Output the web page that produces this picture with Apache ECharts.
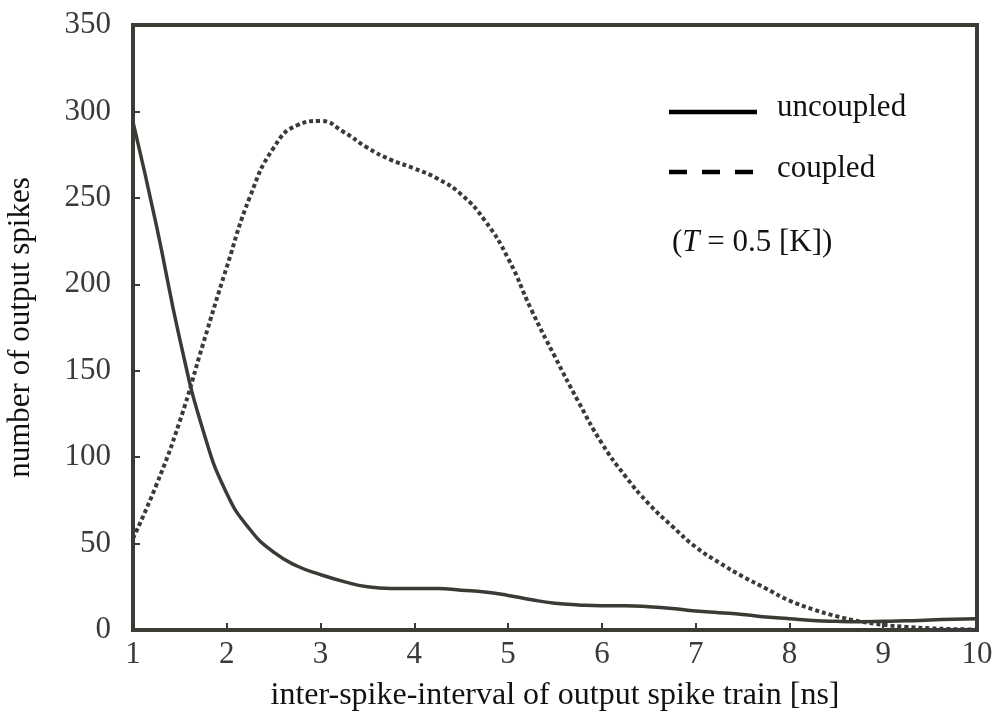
<!DOCTYPE html>
<html><head><meta charset="utf-8">
<script src="https://cdn.jsdelivr.net/npm/echarts@6/dist/echarts.min.js"></script>
<style>html,body{margin:0;padding:0;background:#fff}#c{width:1004px;height:715px}</style>
</head><body><div id="c"></div>
<script>
var xValues = [1.0,1.25,1.5,1.75,2.0,2.25,2.5,2.75,3.0,3.25,3.5,3.75,4.0,4.25,4.5,4.75,5.0,5.25,5.5,5.75,6.0,6.25,6.5,6.75,7.0,7.25,7.5,7.75,8.0,8.25,8.5,8.75,9.0,9.25,9.5,9.75,10.0];
var uncoupled = [294,234,168,115,79,58,45,37,32,28,25,24,24,24,23,22,20,17.5,15.5,14.5,14,14,13.5,12.5,11,10,9,7.5,6.5,5.5,5,4.8,5,5.3,5.8,6.2,6.5];
var coupled = [53,84,121,166,210,251,279,292,294.5,288,279,272,267,261,252,237,215,185,158,132,108,89,73,60,48,39,31,24,17,12,8,5,3,1.8,1,0.5,0.3];
var xTicks = [1,2,3,4,5,6,7,8,9,10];
var yTicks = [0,50,100,150,200,250,300,350];
var seriesNames = ['uncoupled','coupled'];

function pairs(ys){ return xValues.map(function(x,i){ return [x, ys[i]]; }); }

var chart = echarts.init(document.getElementById('c'));
var font = '"Liberation Serif", "DejaVu Serif", serif';
var axisCol = '#3c3c37';
chart.setOption({
  animation: false,
  backgroundColor: '#fff',
  grid: { left: 133, right: 27, top: 25, bottom: 85, outerBoundsMode: 'none', containLabel: false,
          show: true, borderColor: axisCol, borderWidth: 4, backgroundColor: 'transparent' },
  xAxis: {
    type: 'value', min: xTicks[0], max: xTicks[xTicks.length-1], interval: 1,
    name: 'inter-spike-interval of output spike train [ns]', nameLocation: 'middle', nameGap: 50,
    nameTextStyle: { fontFamily: font, fontSize: 32, color: '#111' },
    axisLine: { show: true, lineStyle: { color: axisCol, width: 4 } },
    axisTick: { show: true, inside: true, length: 7, lineStyle: { color: axisCol, width: 2 } },
    axisLabel: { fontFamily: font, fontSize: 31, color: '#3a3a3a', margin: 9 },
    splitLine: { show: false }
  },
  yAxis: {
    type: 'value', min: yTicks[0], max: yTicks[yTicks.length-1], interval: 50,
    name: 'number of output spikes', nameLocation: 'middle', nameGap: 97, nameRotate: 90,
    nameTextStyle: { fontFamily: font, fontSize: 31, color: '#111' },
    axisLine: { show: true, lineStyle: { color: axisCol, width: 4 } },
    axisTick: { show: true, inside: true, length: 7, lineStyle: { color: axisCol, width: 2 } },
    axisLabel: { fontFamily: font, fontSize: 31, color: '#3a3a3a', margin: 22 },
    splitLine: { show: false }
  },
  series: [
    { name: seriesNames[0], type: 'line', data: pairs(uncoupled), smooth: 0.5, showSymbol: false, symbol: 'none',
      lineStyle: { color: '#3b3b36', width: 3.5 }, z: 3 },
    { name: seriesNames[1], type: 'line', data: pairs(coupled), smooth: 0.5, showSymbol: false, symbol: 'none',
      lineStyle: { color: '#3a3a3a', width: 4, type: [4,3] }, z: 2 }
  ],
  graphic: [
    { type: 'line', shape: { x1: 669, y1: 112, x2: 757, y2: 112 }, style: { stroke: '#000', lineWidth: 4.5 } },
    { type: 'line', shape: { x1: 669, y1: 172, x2: 753, y2: 172 }, style: { stroke: '#000', lineWidth: 4.5, lineDash: [18,15] } },
    { type: 'text', left: 777, top: 92, style: { text: seriesNames[0], font: '31px "Liberation Serif", serif', fill: '#111' } },
    { type: 'text', left: 777, top: 153, style: { text: seriesNames[1], font: '31px "Liberation Serif", serif', fill: '#111' } },
    { type: 'text', left: 672, top: 227, style: {
        text: '({i|T} = 0.5 [K])', font: '31px "Liberation Serif", serif', fill: '#111',
        rich: { i: { fontStyle: 'italic', fontFamily: '"Liberation Serif", serif', fontSize: 31, fill: '#111' } } } }
  ]
});
</script></body></html>
